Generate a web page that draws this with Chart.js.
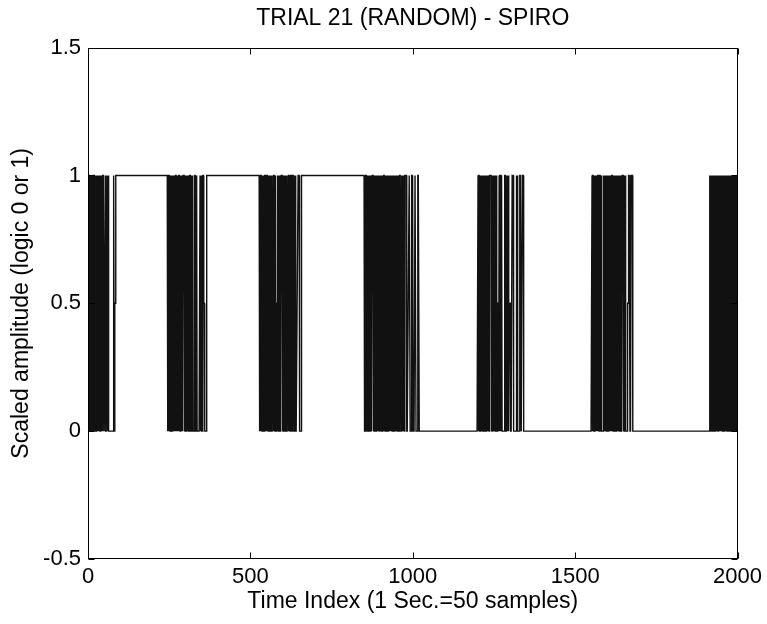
<!DOCTYPE html>
<html><head><meta charset="utf-8">
<script src="https://cdn.jsdelivr.net/npm/chart.js@4/dist/chart.umd.min.js"></script>
<style>html,body{margin:0;padding:0;background:#fff;}</style>
</head><body>
<canvas id="c" width="767" height="624"></canvas>
<script>
// ---- tick labels / titles ----
const xTicks = [0, 500, 1000, 1500, 2000];
const yTicks = [-0.5, 0, 0.5, 1, 1.5];
const chartTitle = "TRIAL 21 (RANDOM) - SPIRO";
const xTitle = "Time Index (1 Sec.=50 samples)";
const yTitle = "Scaled amplitude (logic 0 or 1)";

// ---- signal: bursts of switching ('0','1', '5' = 0.5) and the hold level between bursts ----
const burstStarts = [0, 246, 529, 852, 1200, 1551, 1914];
const holdLevels = [1, 1, 1, 0, 0, 0, 0];
const burst1 = ["0101101010","0101101011","0100101011","0100101011","0100101",
  "111","000","11","0000","11","0","1","000000000000000","111","0","555","11"].join("");
const burst2 = ["0101101001","0110101101","0010110101","00101101",
  "010110100","1111","010110101001","00000","11","000","10101","00000","1101011",
  "000000000","110110","000","111","555","00000","11"].join("");
const burst3 = ["0101101001011010","111","010110100101101001","0000","1011010010","555",
  "1010110100101","111","010110100101","00000","1011010",
  "10110100","1111","01011","0000","555","1111","0000000","1111"].join("");
const burst4 = ["0","0101101001011010010110","1111","0101101001011010010101101","000",
  "1010110100101101001011010","555","0101101001011010101101001","1111","0101101001011",
  "11111","0000","555","111","00000","1101","000000","111","000000","1111","0000"].join("");
const burst5 = ["0101101001011010","000","1011010010110101001","1111","0101101001010110100","5555","0101",
  "101101","00000000","1111","0000","110110","5555","00000","11111","00000000","1101",
  "000000","11111","000","1111","00"].join("");
const burst6 = ["010110100101101001011010","111","01010","000",
  "010110100101101001011010","0101101001011010010110100","10110100101",
  "111","01011010","00000","555","1111","0101","1111","0000"].join("");
const burst7 = ["0101010101","1010101010","1101010101","0101001010","1010101011",
  "0101010101","0101010100","1010101010","1010101"].join("");
const bursts = [burst1, burst2, burst3, burst4, burst5, burst6, burst7];

const points = [];
for (let i = 0; i <= 2000; i++) {
  let k = 0;
  for (let j = 0; j < burstStarts.length; j++) if (burstStarts[j] <= i) k = j;
  const off = i - burstStarts[k];
  let v;
  if (off < bursts[k].length) {
    const c = bursts[k][off];
    v = c === '5' ? 0.5 : Number(c);
  } else {
    v = holdLevels[k];
  }
  points.push({x: i, y: v});
}

const FONT = '"Liberation Sans", Arial, Helvetica, sans-serif';

const boxPlugin = {
  id: 'box',
  afterDraw(chart) {
    const {ctx, chartArea: a, scales} = chart;
    ctx.save();
    ctx.strokeStyle = '#000';
    ctx.lineWidth = 1;
    const L = Math.round(a.left) + 0.5, R = Math.round(a.right) - 0.5;
    const T = Math.round(a.top) + 0.5, B = Math.round(a.bottom) - 0.5;
    ctx.strokeRect(L, T, R - L, B - T);
    ctx.beginPath();
    xTicks.forEach(v => {
      const px = Math.round(scales.x.getPixelForValue(v)) + 0.5;
      ctx.moveTo(px, B); ctx.lineTo(px, B - 6);
      ctx.moveTo(px, T); ctx.lineTo(px, T + 6);
    });
    yTicks.forEach(v => {
      const py = Math.round(scales.y.getPixelForValue(v)) + 0.5;
      ctx.moveTo(L, py); ctx.lineTo(L + 6, py);
      ctx.moveTo(R, py); ctx.lineTo(R - 6, py);
    });
    ctx.stroke();
    ctx.restore();
  }
};

new Chart(document.getElementById('c'), {
  type: 'line',
  data: {datasets: [{data: points, borderColor: '#111', borderWidth: 1.4, pointRadius: 0, tension: 0, fill: false}]},
  options: {
    responsive: false, animation: false, events: [],
    layout: {padding: {left: 0, right: 29, top: 0, bottom: 0}},
    plugins: {
      legend: {display: false}, tooltip: {enabled: false},
      title: {display: true, fullSize: false, text: chartTitle, color: '#000',
        font: {family: FONT, size: 23, weight: 'normal'}, padding: {top: 5, bottom: 15}}
    },
    scales: {
      x: {
        type: 'linear', min: 0, max: 2000,
        afterBuildTicks: s => { s.ticks = xTicks.map(v => ({value: v})); },
        afterFit: s => { s.height = 65; },
        grid: {display: false, drawTicks: false}, border: {display: false},
        ticks: {color: '#000', font: {family: FONT, size: 22}, padding: 5, maxRotation: 0, autoSkip: false,
          callback: v => String(v)},
        title: {display: true, text: xTitle, color: '#000', font: {family: FONT, size: 23}, padding: {top: 0, bottom: 9}}
      },
      y: {
        type: 'linear', min: -0.5, max: 1.5,
        afterBuildTicks: s => { s.ticks = yTicks.map(v => ({value: v})); },
        afterFit: s => { s.width = 88; },
        grid: {display: false, drawTicks: false}, border: {display: false},
        ticks: {color: '#000', font: {family: FONT, size: 22}, padding: 7, autoSkip: false,
          callback: v => String(v)},
        title: {display: true, text: yTitle, color: '#000', font: {family: FONT, size: 23}, padding: {top: 8, bottom: 0}}
      }
    }
  },
  plugins: [boxPlugin]
});
</script>
</body></html>
